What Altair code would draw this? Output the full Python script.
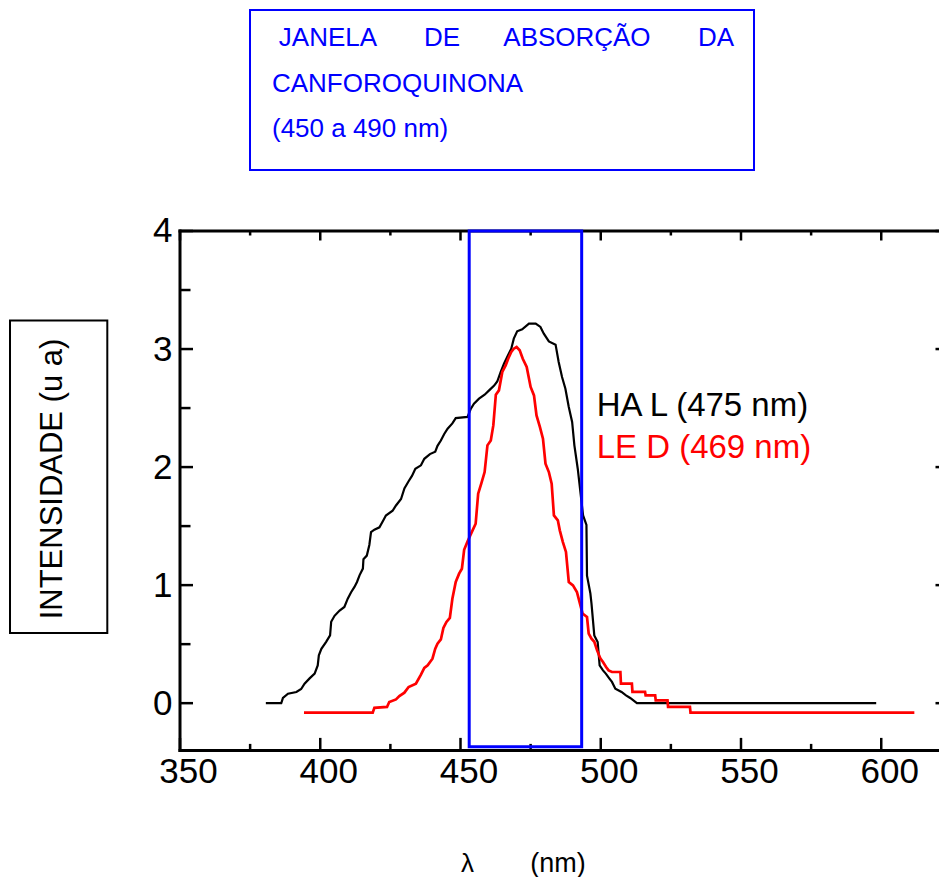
import altair as alt
import pandas as pd

# ---------------- data ----------------
hal_nm = [380.6, 386.1, 386.7, 388.5, 391.5, 393.2, 394.4, 396.2, 398.0, 399.1,
          399.5, 400.4, 402.1, 403.5, 403.9, 405.1, 406.9, 408.6, 409.8, 411.0,
          412.2, 413.1, 414.0, 415.2, 415.4, 416.6, 417.5, 418.1, 419.3, 421.1,
          422.5, 423.4, 425.8, 427.0, 428.8, 430.0, 431.5, 432.7, 433.9, 435.9,
          437.1, 439.1, 441.0, 441.8, 443.0, 444.2, 445.4, 447.1, 448.3, 452.5,
          453.7, 454.8, 456.6, 458.6, 460.2, 462.0, 463.1, 464.3, 465.5, 466.9,
          468.1, 469.0, 470.2, 472.0, 474.4, 476.8, 478.5, 479.7, 481.5, 483.9,
          485.0, 486.2, 487.4, 488.6, 489.8, 490.6, 491.8, 493.7, 494.9, 495.1,
          496.3, 496.7, 497.7, 498.9, 499.6, 500.8, 501.8, 503.1, 504.0, 505.2,
          507.4, 509.0, 510.5, 512.9, 598.2]
hal_int = [0.0, 0.0, 0.044, 0.08, 0.095, 0.12, 0.165, 0.21, 0.25, 0.32,
           0.405, 0.46, 0.52, 0.575, 0.69, 0.74, 0.785, 0.815, 0.885, 0.94,
           0.985, 1.027, 1.083, 1.14, 1.22, 1.25, 1.34, 1.45, 1.47, 1.49,
           1.55, 1.59, 1.63, 1.675, 1.73, 1.82, 1.88, 1.925, 1.985, 2.015,
           2.07, 2.11, 2.13, 2.18, 2.225, 2.28, 2.325, 2.37, 2.415, 2.425,
           2.495, 2.537, 2.58, 2.613, 2.65, 2.69, 2.725, 2.805, 2.876, 2.946,
           3.003, 3.088, 3.15, 3.167, 3.215, 3.215, 3.187, 3.13, 3.065, 3.037,
           2.89, 2.763, 2.664, 2.509, 2.382, 2.184, 1.986, 1.59, 1.51, 1.08,
           0.93, 0.843, 0.574, 0.518, 0.32, 0.278, 0.25, 0.208, 0.18, 0.123,
           0.095, 0.066, 0.044, 0.0, 0.0]

led_nm = [394.2, 418.7, 419.3, 423.8, 424.6, 427.0, 428.2, 430.0, 431.5, 434.1,
          435.9, 437.1, 438.3, 440.0, 441.0, 441.8, 443.0, 443.9, 445.0, 446.2,
          447.1, 448.3, 449.5, 450.5, 451.3, 452.5, 454.3, 455.4, 456.3, 457.4,
          458.6, 459.6, 460.8, 461.7, 462.6, 463.7, 464.9, 466.1, 467.0, 468.1,
          469.0, 470.0, 471.1, 472.2, 473.6, 475.0, 476.2, 477.1, 478.3, 479.4,
          480.3, 481.5, 482.5, 483.3, 484.7, 485.4, 486.5, 487.6, 488.6, 490.1,
          491.5, 493.5, 495.1, 495.7, 496.7, 497.7, 498.7, 499.9, 500.8, 501.9,
          502.8, 504.0, 507.0, 507.2, 511.1, 511.3, 515.8, 516.0, 519.4, 519.6,
          523.8, 524.0, 531.8, 532.0, 611.8]
led_int = [-0.08, -0.08, -0.04, -0.032, 0.01, 0.032, 0.06, 0.089, 0.137, 0.165,
           0.241, 0.298, 0.32, 0.377, 0.462, 0.504, 0.54, 0.637, 0.688, 0.722,
           0.885, 1.027, 1.097, 1.139, 1.3, 1.37, 1.464, 1.52, 1.775, 1.86,
           1.958, 2.184, 2.226, 2.353, 2.613, 2.65, 2.806, 2.862, 2.918, 2.975,
           3.003, 3.017, 2.989, 2.918, 2.848, 2.679, 2.607, 2.438, 2.34, 2.241,
           2.029, 1.958, 1.859, 1.591, 1.549, 1.464, 1.365, 1.281, 1.027, 0.998,
           0.942, 0.76, 0.73, 0.59, 0.546, 0.52, 0.447, 0.377, 0.349, 0.307,
           0.278, 0.264, 0.264, 0.165, 0.165, 0.095, 0.095, 0.066, 0.066, 0.024,
           0.024, -0.032, -0.032, -0.08, -0.08]

x_major = [350, 400, 450, 500, 550, 600]
x_minor = [375, 425, 475, 525, 575]
y_major = [0, 1, 2, 3, 4]
y_minor = [0.5, 1.5, 2.5, 3.5]

window_nm = [453.1, 493.2]
window_int = [-0.37, 4.0]

title_words = ["JANELA", "DE", "ABSORÇÃO", "DA"]
title_lines = ["CANFOROQUINONA", "(450 a 490 nm)"]
legend_labels = ["HA L (475 nm)", "LE D (469 nm)"]
y_title = "INTENSIDADE (u a)"
x_title = ["λ", "(nm)"]

# ---------------- layout ----------------
W, H = 759, 519.4
X_DOMAIN = [350, 350 + W / 2.805]
Y_DOMAIN = [-0.4, 4.0]
FONT = "Liberation Sans"
BLUE = "#0000ff"
RED = "#ff0000"

xs = alt.Scale(domain=X_DOMAIN, nice=False, zero=False)
ys = alt.Scale(domain=Y_DOMAIN, nice=False, zero=False)
one = pd.DataFrame({"d": [0]})

x_axis = alt.Axis(values=x_major, ticks=False, domain=False, grid=False,
                  labelFontSize=35, labelFont=FONT, labelColor="black",
                  labelPadding=4, labelOffset=8, labelFlush=False,
                  labelOverlap=False, title=None)
y_axis = alt.Axis(values=y_major, ticks=False, domain=False, grid=False,
                  labelFontSize=35, labelFont=FONT, labelColor="black",
                  labelPadding=8, labelFlush=False, labelOverlap=False,
                  title=None)

XQ = alt.X("x:Q", scale=xs, axis=x_axis)
YQ = alt.Y("y:Q", scale=ys, axis=y_axis)

layers = []

# frame (left, top, bottom)
layers.append(alt.Chart(one).mark_rule(color="black", strokeWidth=3, strokeCap="square")
              .encode(x=alt.value(0), y=alt.value(0), y2=alt.value(H)))
layers.append(alt.Chart(one).mark_rule(color="black", strokeWidth=3, strokeCap="square")
              .encode(x=alt.value(0), x2=alt.value(W), y=alt.value(0)))
layers.append(alt.Chart(one).mark_rule(color="black", strokeWidth=3, strokeCap="square")
              .encode(x=alt.value(0), x2=alt.value(W), y=alt.value(H)))

# inward ticks
xmaj = pd.DataFrame({"x": x_major})
xmin = pd.DataFrame({"x": x_minor})
ymaj = pd.DataFrame({"y": y_major})
ymin = pd.DataFrame({"y": y_minor})


def tick(df, **enc):
    return alt.Chart(df).mark_rule(color="black", strokeWidth=2.5).encode(**enc)


layers += [
    tick(xmaj, x=XQ, y=alt.value(H), y2=alt.value(H - 12.5)),
    tick(xmin, x=XQ, y=alt.value(H), y2=alt.value(H - 6.5)),
    tick(xmaj, x=XQ, y=alt.value(0), y2=alt.value(9.5)),
    tick(xmin, x=XQ, y=alt.value(0), y2=alt.value(4.5)),
    tick(ymaj, y=YQ, x=alt.value(0), x2=alt.value(13)),
    tick(ymin, y=YQ, x=alt.value(0), x2=alt.value(10.5)),
    tick(ymaj, y=YQ, x=alt.value(W - 3.5), x2=alt.value(W)),
]

# curves
hal = alt.Chart(pd.DataFrame({"x": hal_nm, "y": hal_int})).mark_line(
    color="black", strokeWidth=2.2).encode(x=XQ, y=YQ)
led = alt.Chart(pd.DataFrame({"x": led_nm, "y": led_int})).mark_line(
    color=RED, strokeWidth=2.7).encode(x=XQ, y=YQ)
layers += [hal, led]

# absorption window
win = alt.Chart(pd.DataFrame({"x": [window_nm[0]], "x2": [window_nm[1]],
                              "y": [window_int[0]], "y2": [window_int[1]]})).mark_rect(
    fillOpacity=0, stroke=BLUE, strokeWidth=3).encode(
    x=XQ, x2="x2:Q", y=YQ, y2="y2:Q")
layers.append(win)

# legend labels
layers.append(alt.Chart(one).mark_text(text=legend_labels[0], font=FONT, fontSize=33,
                                       color="black", align="left", baseline="alphabetic")
              .encode(x=alt.value(416.7), y=alt.value(184.7)))
layers.append(alt.Chart(one).mark_text(text=legend_labels[1], font=FONT, fontSize=33,
                                       color=RED, align="left", baseline="alphabetic")
              .encode(x=alt.value(416.7), y=alt.value(227)))

# title box
layers.append(alt.Chart(one).mark_rect(fillOpacity=0, stroke=BLUE, strokeWidth=2)
              .encode(x=alt.value(70), x2=alt.value(574), y=alt.value(-221), y2=alt.value(-61)))
for word, xpos in zip(title_words, [98.8, 244, 323.3, 518]):
    layers.append(alt.Chart(one).mark_text(text=word, font=FONT, fontSize=26, color=BLUE,
                                           align="left", baseline="alphabetic")
                  .encode(x=alt.value(xpos), y=alt.value(-184.7)))
for line, ypos in zip(title_lines, [-139.2, -94]):
    layers.append(alt.Chart(one).mark_text(text=line, font=FONT, fontSize=26, color=BLUE,
                                           align="left", baseline="alphabetic")
                  .encode(x=alt.value(92), y=alt.value(ypos)))

# y title box
layers.append(alt.Chart(one).mark_rect(fillOpacity=0, stroke="black", strokeWidth=2)
              .encode(x=alt.value(-170), x2=alt.value(-72.7), y=alt.value(89.4), y2=alt.value(402)))
layers.append(alt.Chart(one).mark_text(text=y_title, font=FONT, fontSize=31, color="black",
                                       angle=270, align="center", baseline="alphabetic")
              .encode(x=alt.value(-118.3), y=alt.value(248)))

# x title
layers.append(alt.Chart(one).mark_text(text=x_title[0], font=FONT, fontSize=26, color="black",
                                       align="center", baseline="alphabetic")
              .encode(x=alt.value(287.5), y=alt.value(641)))
layers.append(alt.Chart(one).mark_text(text=x_title[1], font=FONT, fontSize=27, color="black",
                                       align="center", baseline="alphabetic")
              .encode(x=alt.value(378), y=alt.value(641)))

chart = alt.layer(*layers).properties(
    width=W, height=H,
    padding={"left": 172, "top": 223, "right": 0, "bottom": 127},
    autosize=alt.AutoSizeParams(type="none"),
    background="white",
).configure_view(stroke=None)

chart.save("out.html", embed_options={"renderer": "svg", "actions": False})
